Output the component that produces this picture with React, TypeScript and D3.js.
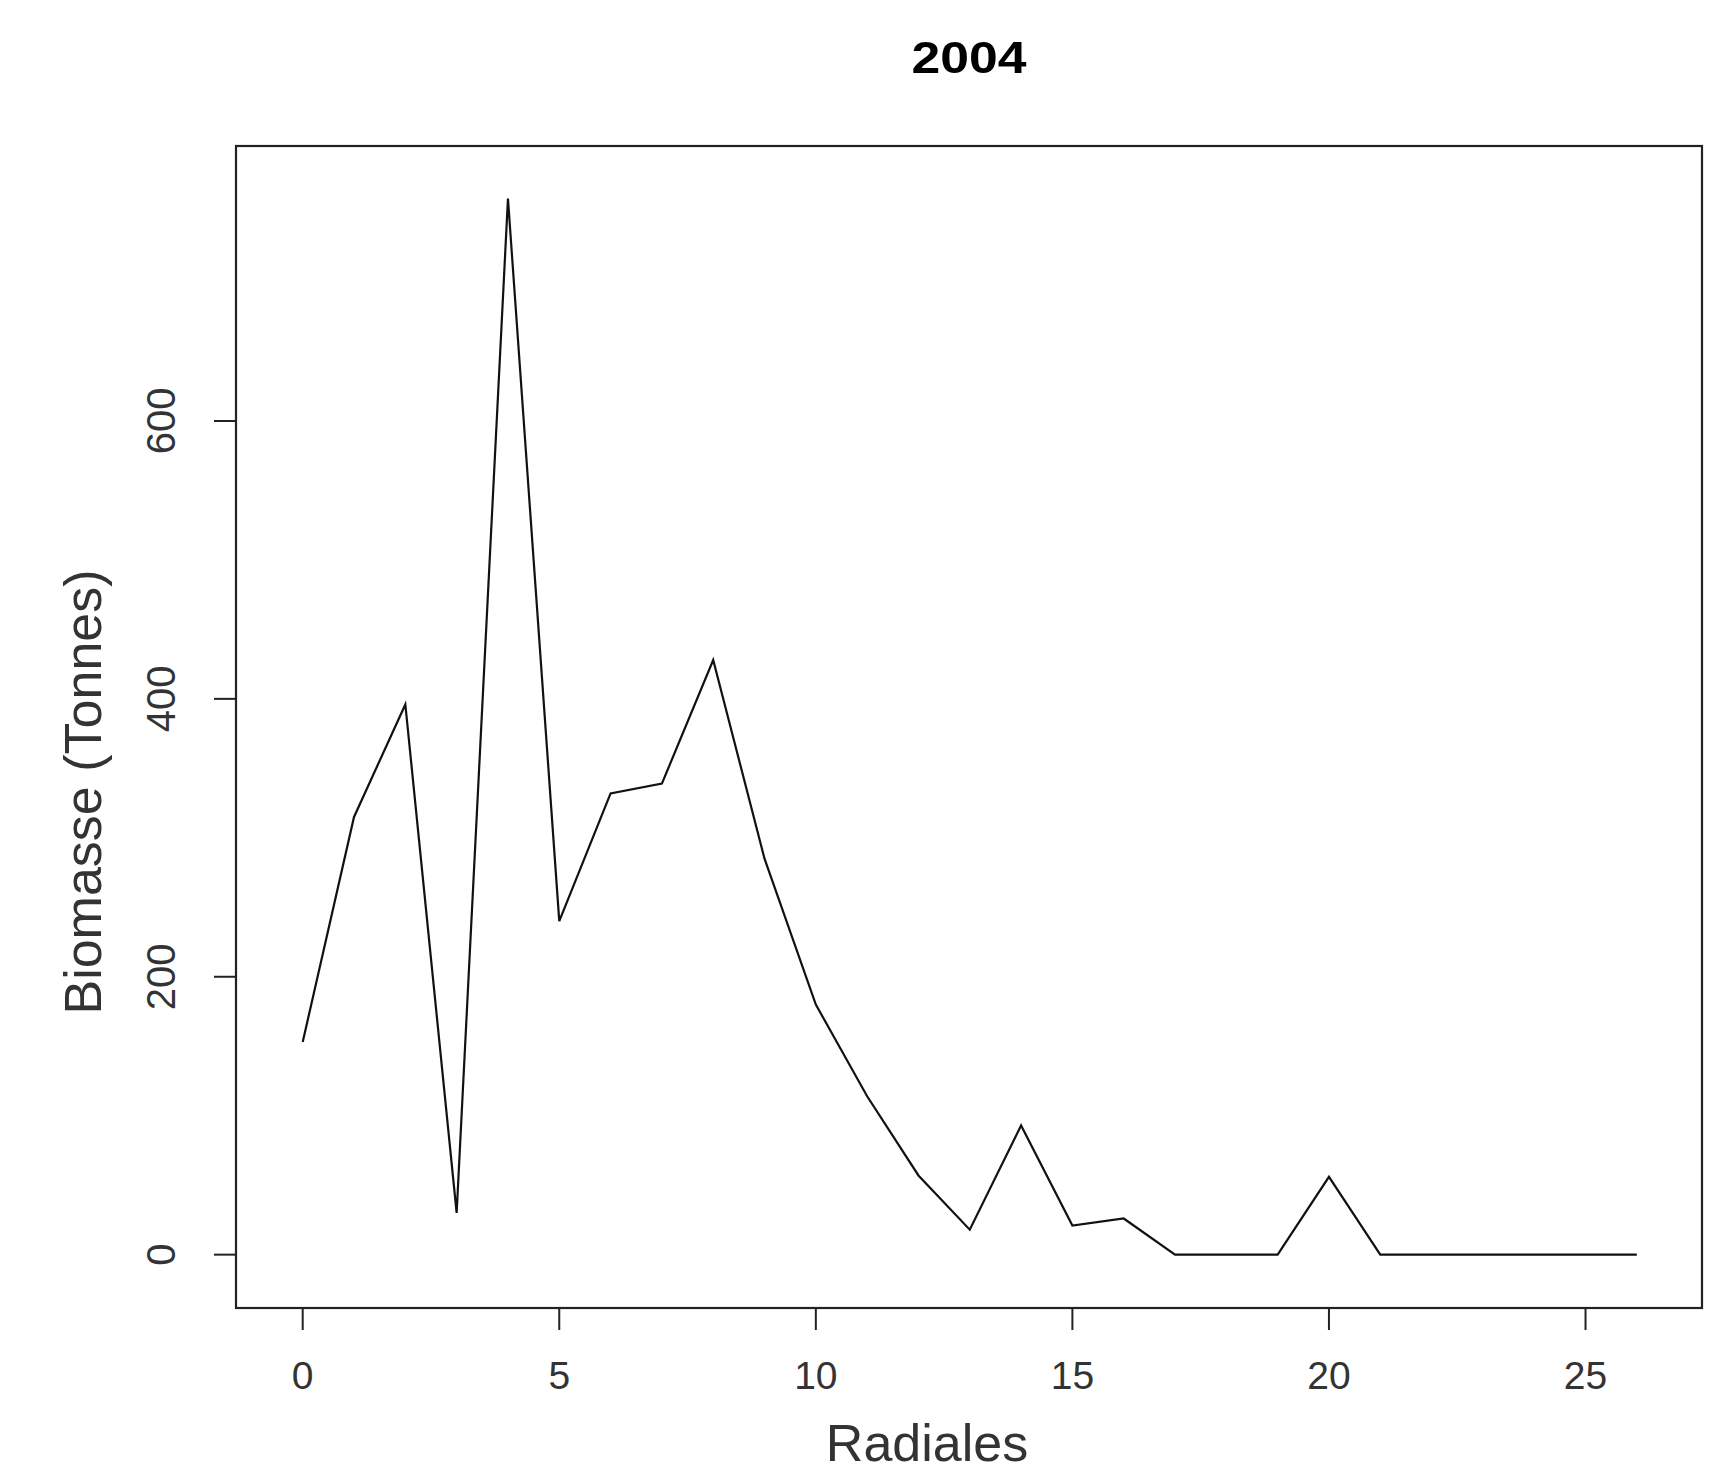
import React from "react";
import * as d3 from "d3";

const radiales = [0,1,2,3,4,5,6,7,8,9,10,11,12,13,14,15,16,17,18,19,20,21,22,23,24,25,26];
const biomasse = [153,315,396,30,760,240,332,339,428,285,180,114,57,18,93,21,26,0,0,0,56,0,0,0,0,0,0];
const xTicks = [0,5,10,15,20,25];
const yTicks = [0,200,400,600];
const title = "2004";
const xLabel = "Radiales";
const yLabel = "Biomasse (Tonnes)";

const W = 1730, H = 1473;
const L = 236, R = 1702, T = 146, B = 1308;
const FONT = "'Liberation Sans', Arial, sans-serif";

export default function App() {
  const x = d3.scaleLinear().domain([-1.3, 27.27]).range([L, R]);
  const y = d3.scaleLinear().domain([-38.4, 797.9]).range([B, T]);
  const pts = radiales.map((r, i) => [r, biomasse[i]] as [number, number]);
  const line = d3.line<[number, number]>().x(d => x(d[0])).y(d => y(d[1]));
  const tick = 22;
  return (
    <svg width={W} height={H} style={{ position: "absolute", left: 0, top: 0, display: "block", background: "#fff" }}>
      <rect x={0} y={0} width={W} height={H} fill="#fff" />
      <text x={(L + R) / 2} y={72.5} textAnchor="middle" fontFamily={FONT} fontWeight="bold" fontSize={45}
        textLength={115} lengthAdjust="spacingAndGlyphs" fill="#000">{title}</text>
      <rect x={L} y={T} width={R - L} height={B - T} fill="none" stroke="#222" strokeWidth={2.2} />
      <path d={line(pts) || ""} fill="none" stroke="#111" strokeWidth={2.2} strokeLinejoin="miter" />
      {xTicks.map(t => (
        <g key={"x" + t}>
          <line x1={x(t)} x2={x(t)} y1={B} y2={B + tick} stroke="#222" strokeWidth={2} />
          <text x={x(t)} y={1389} textAnchor="middle" fontFamily={FONT} fontSize={39} fill="#333">{t}</text>
        </g>
      ))}
      {yTicks.map(t => (
        <g key={"y" + t}>
          <line x1={L - tick} x2={L} y1={y(t)} y2={y(t)} stroke="#222" strokeWidth={2} />
          <text transform={`translate(175,${y(t)}) rotate(-90)`} textAnchor="middle" fontFamily={FONT} fontSize={40} fill="#333">{t}</text>
        </g>
      ))}
      <text x={927} y={1461} textAnchor="middle" fontFamily={FONT} fontSize={52} fill="#333">{xLabel}</text>
      <text transform={`translate(101,792) rotate(-90)`} textAnchor="middle" fontFamily={FONT} fontSize={52} fill="#333">{yLabel}</text>
    </svg>
  );
}
